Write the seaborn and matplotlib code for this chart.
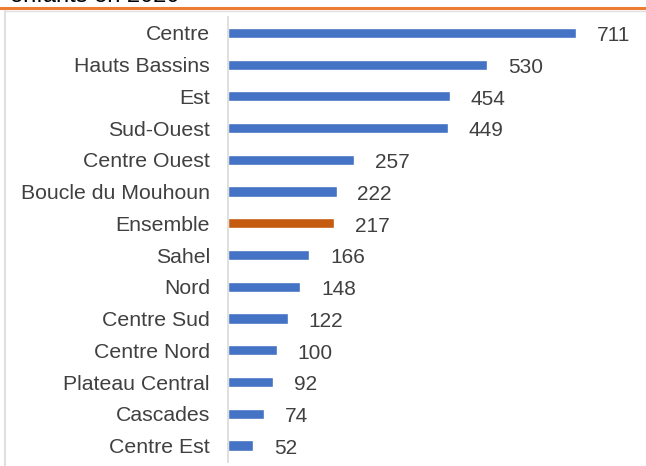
import pandas as pd
import matplotlib.pyplot as plt
import seaborn as sns
from matplotlib.lines import Line2D

regions = ['Centre', 'Hauts Bassins', 'Est', 'Sud-Ouest', 'Centre Ouest',
           'Boucle du Mouhoun', 'Ensemble', 'Sahel', 'Nord', 'Centre Sud',
           'Centre Nord', 'Plateau Central', 'Cascades', 'Centre Est']
values = [711, 530, 454, 449, 257, 222, 217, 166, 148, 122, 100, 92, 74, 52]
title_text = 'enfants en 2020'

df = pd.DataFrame({'region': regions, 'value': values})
palette = ['#C55A11' if r == 'Ensemble' else '#4472C4' for r in regions]

sns.set_style('white')
plt.rcParams['font.family'] = ['Liberation Sans', 'DejaVu Sans']

W, H = 646, 466
fig = plt.figure(figsize=(W / 100, H / 100), dpi=100)
ax = fig.add_axes([228 / W, 4 / H, 412 / W, 445 / H])

sns.barplot(data=df, x='value', y='region', hue='region', palette=palette,
            legend=False, width=0.32, ax=ax, saturation=1)

# value labels sit a touch below the bar centre, as in the original
for c in ax.containers:
    for t in ax.bar_label(c, padding=15, fontsize=15, color='#404040'):
        t.xyann = (15, -2)

ax.set_xlim(0, 842)
ax.set_ylim(13.52, -0.5)
ax.set_xlabel('')
ax.set_ylabel('')
ax.set_xticks([])
ax.tick_params(axis='y', length=0, pad=13, labelsize=15.3, labelcolor='#404040')
for s in ['top', 'right', 'bottom']:
    ax.spines[s].set_visible(False)
ax.spines['left'].set_color('#D9D9D9')
ax.spines['left'].set_linewidth(1.2)

# cut-off title and frame pieces from the source document
fig.text(10 / W, 1.0 + 4 / H, title_text, fontsize=17, color='black',
         ha='left', va='center')
fig.add_artist(Line2D([0, 1], [1 - 8 / H, 1 - 8 / H], color='#ED7D31',
                      lw=2.2, transform=fig.transFigure))
fig.add_artist(Line2D([4.5 / W, 1], [1 - 11 / H, 1 - 11 / H], color='#E0E0E0',
                      lw=1.0, transform=fig.transFigure))
fig.add_artist(Line2D([4.5 / W, 4.5 / W], [0, 1 - 11 / H], color='#E0E0E0',
                      lw=1.5, transform=fig.transFigure))

fig.savefig('out.png', dpi=100)
